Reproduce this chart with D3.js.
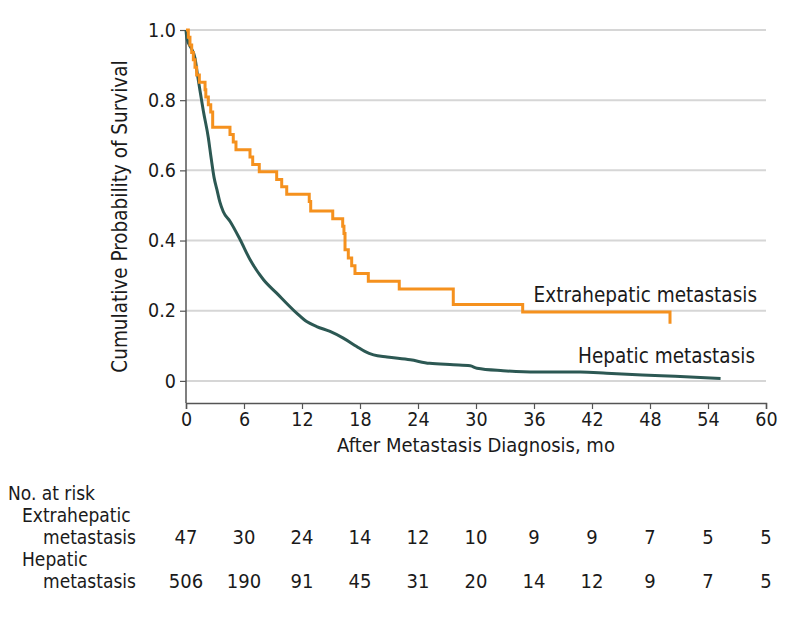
<!DOCTYPE html>
<html><head><meta charset="utf-8">
<script src="https://cdn.jsdelivr.net/npm/d3@7"></script>
<style>
body{margin:0;background:#fff;}
svg text{font-family:"DejaVu Sans Condensed","Open Sans",sans-serif;fill:#1a1a1a;}
</style></head><body>
<svg id="c" width="798" height="620"></svg>
<script>
// ---- data ----
const xTicks = [0,6,12,18,24,30,36,42,48,54,60];
const yTicks = [0,0.2,0.4,0.6,0.8,1.0];
const yTickLabels = ["0","0.2","0.4","0.6","0.8","1.0"];
// Extrahepatic metastasis (Kaplan-Meier steps: time, survival after drop)
const extraTime = [0,0.24,0.41,0.59,0.76,0.93,1.1,1.38,1.97,2.05,2.31,2.56,2.76,4.55,4.89,5.17,6.62,6.9,7.58,9.38,9.9,10.42,12.75,12.9,15.18,16.21,16.34,16.45,16.79,17.14,17.48,18.86,22.06,27.65,34.83,50.07];
const extraSurv = [1.0,0.979,0.957,0.936,0.915,0.894,0.872,0.851,0.830,0.809,0.787,0.766,0.723,0.702,0.681,0.659,0.638,0.617,0.596,0.574,0.553,0.532,0.511,0.484,0.462,0.441,0.420,0.374,0.350,0.328,0.306,0.284,0.262,0.218,0.196,0.163];
const extraEnd = 50.07;
// Hepatic metastasis
const hepTime = [0,0.1,0.5,0.93,1.2,1.45,1.79,2.31,2.6,2.9,3.2,3.5,3.86,4.55,5.59,6.62,8.0,9.38,11.45,12.48,13.52,14.9,16.27,17.66,18.5,19.4,20.8,23.2,25.2,27.65,29.4,30.1,32.8,36.3,40.8,43.5,47.2,50.6,55.3];
const hepSurv = [1.0,0.975,0.95,0.92,0.87,0.827,0.77,0.693,0.635,0.58,0.545,0.51,0.482,0.455,0.403,0.346,0.289,0.25,0.193,0.169,0.155,0.141,0.122,0.098,0.084,0.074,0.068,0.06,0.05,0.046,0.043,0.036,0.029,0.025,0.025,0.022,0.017,0.013,0.007];
const groups = ["Extrahepatic metastasis","Hepatic metastasis"];
const riskExtra = [47,30,24,14,12,10,9,9,7,5,5];
const riskHep = [506,190,91,45,31,20,14,12,9,7,5];

// ---- layout ----
const svg = d3.select("#c");
const L=186, R=766, T=30, B=403;
const x = d3.scaleLinear().domain([0,60]).range([L,R]);
const y = d3.scaleLinear().domain([-0.063,1.0]).range([B,T]);
const orange="#f5911e", teal="#2c5853";
const FF='"DejaVu Sans Condensed","Open Sans",sans-serif';

// gridlines
svg.append("g").selectAll("line").data(yTicks).join("line")
  .attr("x1",L).attr("x2",R).attr("y1",d=>y(d)).attr("y2",d=>y(d))
  .attr("stroke","#d6d6d6").attr("stroke-width",2);

// axes
const yAxis = d3.axisLeft(y).tickValues(yTicks).tickFormat((d,i)=>yTickLabels[i]).tickSize(6).tickPadding(4);
const gy = svg.append("g").attr("transform",`translate(${L},0)`).call(yAxis);
gy.select(".domain").attr("d",`M0,${T}V${B}`);
const xAxis = d3.axisBottom(x).tickValues(xTicks).tickSize(6).tickPadding(3);
const gx = svg.append("g").attr("transform",`translate(0,${B})`).call(xAxis);
[gx,gy].forEach(g=>{
  g.selectAll(".domain").attr("stroke","#555").attr("stroke-width",1.5);
  g.selectAll(".tick line").attr("stroke","#555").attr("stroke-width",1.2);
  g.selectAll(".tick text").attr("font-size",19.5).attr("fill","#1a1a1a").style("font-family",FF);
});

// curves
const hepData = hepTime.map((t,i)=>[t,hepSurv[i]]);
const extraData = extraTime.map((t,i)=>[t,extraSurv[i]]);
extraData.push([extraEnd, extraSurv[extraSurv.length-1]]);
const lineLin = d3.line().x(d=>x(d[0])).y(d=>y(d[1])).curve(d3.curveMonotoneX);
const lineStep = d3.line().x(d=>x(d[0])).y(d=>y(d[1])).curve(d3.curveStepAfter);
svg.append("path").datum(hepData).attr("d",lineLin).attr("fill","none")
  .attr("stroke",teal).attr("stroke-width",3).attr("stroke-linejoin","round");
svg.append("path").datum(extraData).attr("d",lineStep).attr("fill","none")
  .attr("stroke",orange).attr("stroke-width",3);

// curve labels
svg.append("text").attr("x",757).attr("y",302).attr("text-anchor","end").attr("font-size",20.5).text(groups[0]);
svg.append("text").attr("x",755).attr("y",363).attr("text-anchor","end").attr("font-size",20.5).text(groups[1]);

// axis titles
svg.append("text").attr("transform",`translate(127,${(T+B)/2}) rotate(-90)`).attr("text-anchor","middle")
  .attr("font-size",20.5).text("Cumulative Probability of Survival");
svg.append("text").attr("x",(L+R)/2).attr("y",452).attr("text-anchor","middle").attr("font-size",20)
  .text("After Metastasis Diagnosis, mo");

// risk table
const RF = 19;
svg.append("text").attr("x",8).attr("y",500).attr("font-size",RF).text("No. at risk");
svg.append("text").attr("x",22).attr("y",522).attr("font-size",RF).text("Extrahepatic");
svg.append("text").attr("x",136).attr("y",544).attr("text-anchor","end").attr("font-size",RF).text("metastasis");
svg.append("text").attr("x",22).attr("y",566).attr("font-size",RF).text("Hepatic");
svg.append("text").attr("x",136).attr("y",588).attr("text-anchor","end").attr("font-size",RF).text("metastasis");
svg.append("g").selectAll("text").data(riskExtra).join("text")
  .attr("x",(d,i)=>x(xTicks[i])).attr("y",544).attr("text-anchor","middle").attr("font-size",20).text(d=>d);
svg.append("g").selectAll("text").data(riskHep).join("text")
  .attr("x",(d,i)=>x(xTicks[i])).attr("y",588).attr("text-anchor","middle").attr("font-size",20).text(d=>d);
</script></body></html>
